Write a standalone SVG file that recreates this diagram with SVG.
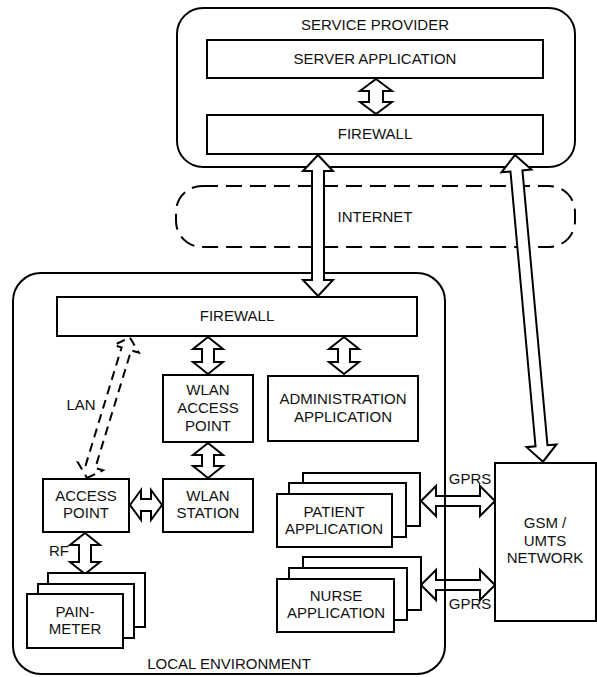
<svg xmlns="http://www.w3.org/2000/svg" width="597" height="677" viewBox="0 0 597 677">
<style>
.box{fill:#fff;stroke:#000;stroke-width:2}
.cont{fill:none;stroke:#000;stroke-width:2}
.arr{fill:#fff;stroke:#000;stroke-width:2;stroke-linejoin:miter}
.dash{fill:none;stroke:#000;stroke-width:2;stroke-dasharray:9 6}
text{font-family:"Liberation Sans",Arial,sans-serif;font-size:15px;fill:#111;text-anchor:middle}
</style>
<rect width="597" height="677" fill="#fff"/>
<g id="service-provider">
<rect class="cont" x="177" y="8" width="398" height="159" rx="26"/>
<text x="375" y="30">SERVICE PROVIDER</text>
</g>
<g id="internet">
<rect x="176" y="186" width="399" height="61" rx="26" fill="none" stroke="#000" stroke-width="2" stroke-dasharray="16 8"/>
<text x="375" y="222">INTERNET</text>
</g>
<g id="local-environment-label">
<text x="229" y="669">LOCAL ENVIRONMENT</text>
</g>
<g id="connectors">
<polygon class="arr" points="421,501 436,486 436,496 480,496 480,486 495,501 480,516 480,506 436,506 436,516"/>
<polygon class="arr" points="421,585 436,570 436,580 480,580 480,570 495,585 480,600 480,590 436,590 436,600"/>
</g>
<g id="local-environment">
<rect class="cont" x="13" y="273" width="432" height="401" rx="28"/>
</g>
<g id="connectors2">
<polygon class="arr" points="376,79 392,91 383,91 383,102 392,102 376,114 360,102 369,102 369,91 360,91"/>
<polygon class="arr" points="318,155 333,171 324,171 324,280 333,280 318,296 303,280 312,280 312,171 303,171"/>
<polygon class="arr" transform="translate(515,155) rotate(-5.21)" points="0,0 15,16 6,16 6,292 15,292 0,308 -15,292 -6,292 -6,16 -15,16"/>
<polygon class="arr" points="208,337 223,349 214,349 214,362 223,362 208,374 193,362 202,362 202,349 193,349"/>
<polygon class="arr" points="344,337 359,349 350,349 350,362 359,362 344,374 329,362 338,362 338,349 329,349"/>
<polygon class="arr" points="208,443 223,455 214,455 214,466 223,466 208,478 193,466 202,466 202,455 193,455"/>
<polygon class="arr" points="130,505 141,490 141,499 151,499 151,490 162,505 151,520 151,511 141,511 141,520"/>
<polygon class="arr" points="85,533 100,545 91,545 91,562 100,562 85,574 70,562 79,562 79,545 70,545"/>
<polygon class="dash" transform="translate(87,478) rotate(16.96)" points="0,0 13,-12 5,-12 5,-135 13,-135 0,-147 -13,-135 -5,-135 -5,-12 -13,-12"/>
</g>
<g id="server-application">
<rect class="box" x="207" y="40" width="336" height="38"/>
<text x="375" y="64">SERVER APPLICATION</text>
</g>
<g id="firewall-provider">
<rect class="box" x="207" y="115" width="336" height="39"/>
<text x="375" y="139">FIREWALL</text>
</g>
<g id="firewall-local">
<rect class="box" x="57" y="297" width="360" height="39"/>
<text x="237" y="321">FIREWALL</text>
</g>
<g id="lan-label">
<text x="81" y="410">LAN</text>
</g>
<g id="wlan-access-point">
<rect class="box" x="163" y="375" width="90" height="67"/>
<text x="208" y="395">WLAN</text>
<text x="208" y="413">ACCESS</text>
<text x="208" y="431">POINT</text>
</g>
<g id="administration-application">
<rect class="box" x="268" y="376" width="150" height="65"/>
<text x="343" y="404">ADMINISTRATION</text>
<text x="343" y="422">APPLICATION</text>
</g>
<g id="access-point">
<rect class="box" x="43" y="479" width="86" height="53"/>
<text x="86" y="501">ACCESS</text>
<text x="86" y="518">POINT</text>
</g>
<g id="wlan-station">
<rect class="box" x="163" y="479" width="90" height="53"/>
<text x="208" y="501">WLAN</text>
<text x="208" y="518">STATION</text>
</g>
<g id="rf-label">
<text x="59" y="556">RF</text>
</g>
<g id="pain-meter">
<rect class="box" x="48" y="573" width="97" height="54"/>
<rect class="box" x="38" y="584" width="96" height="54"/>
<rect class="box" x="27" y="594" width="96" height="54"/>
<text x="75" y="617">PAIN-</text>
<text x="75" y="634">METER</text>
</g>
<g id="patient-application">
<rect class="box" x="303" y="473" width="117" height="53"/>
<rect class="box" x="289" y="483" width="117" height="54"/>
<rect class="box" x="277" y="494" width="115" height="53"/>
<text x="334" y="517">PATIENT</text>
<text x="334" y="534">APPLICATION</text>
</g>
<g id="nurse-application">
<rect class="box" x="303" y="557" width="118" height="53"/>
<rect class="box" x="289" y="568" width="118" height="52"/>
<rect class="box" x="277" y="579" width="117" height="53"/>
<text x="336" y="601">NURSE</text>
<text x="336" y="618">APPLICATION</text>
</g>
<g id="gprs-labels">
<text x="470" y="484">GPRS</text>
<text x="470" y="609">GPRS</text>
</g>
<g id="gsm-umts-network">
<rect class="box" x="495" y="463" width="101" height="158"/>
<text x="545" y="528">GSM /</text>
<text x="545" y="546">UMTS</text>
<text x="545" y="563">NETWORK</text>
</g>
</svg>
